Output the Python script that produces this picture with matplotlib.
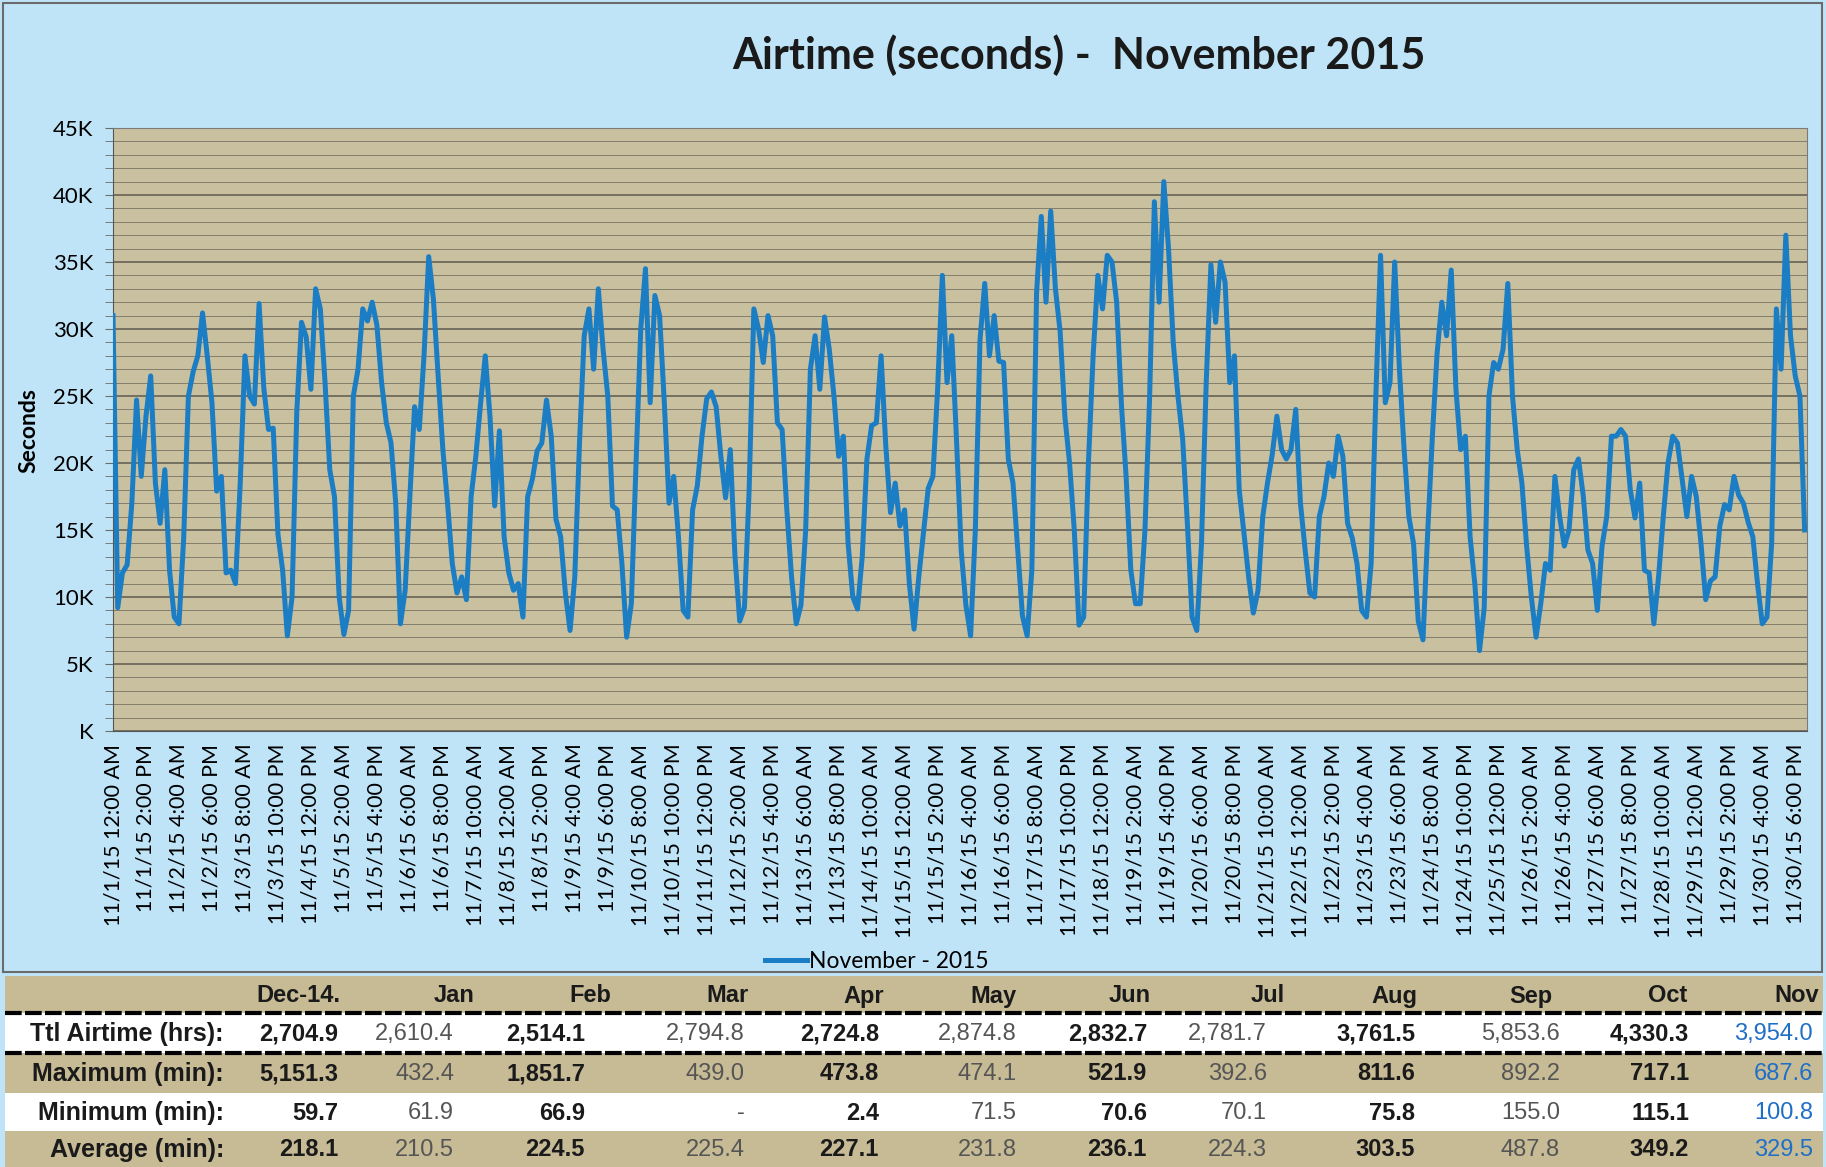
import datetime as dt
import numpy as np
import matplotlib
matplotlib.use('Agg')
import matplotlib.pyplot as plt
from matplotlib.lines import Line2D
from matplotlib.patches import Rectangle
from matplotlib.ticker import MultipleLocator, FuncFormatter

plt.rcParams['font.family'] = ['Lato', 'DejaVu Sans']

# airtime in thousands of seconds, sampled every 2 hours (00:00, 02:00 ... 22:00)
nov01 = [31, 9.2, 11.8, 12.4, 17, 24.7, 19, 23.5, 26.5, 18.5, 15.5, 19.5]
nov02 = [12, 8.5, 8.0, 14.4, 25, 26.8, 28, 31.2, 28, 24.5, 17.9, 19]
nov03 = [11.8, 12, 11, 18.5, 28, 25, 24.4, 31.9, 25.6, 22.5, 22.6, 14.7]
nov04 = [12, 7.1, 10, 23.8, 30.5, 29.4, 25.5, 33, 31.5, 26, 19.5, 17.5]
nov05 = [10, 7.2, 9, 25, 27, 31.5, 30.6, 32, 30.3, 26, 23, 21.5]
nov06 = [17, 8, 10.5, 17.5, 24.2, 22.5, 28, 35.4, 32.2, 26.5, 21, 17]
nov07 = [12.5, 10.3, 11.5, 9.8, 17.5, 20.5, 24.4, 28, 23.5, 16.8, 22.4, 14.5]
nov08 = [11.8, 10.5, 11, 8.5, 17.5, 18.8, 20.9, 21.5, 24.7, 22, 15.8, 14.5]
nov09 = [10.3, 7.5, 11.5, 21.5, 29.5, 31.5, 27, 33, 28.5, 25, 16.8, 16.5]
nov10 = [12.5, 7, 9.5, 20, 30, 34.5, 24.5, 32.5, 31, 24.5, 17, 19]
nov11 = [14.5, 9, 8.5, 16.5, 18.3, 22, 24.8, 25.3, 24.2, 20.5, 17.4, 21]
nov12 = [13, 8.2, 9.2, 18, 31.5, 30, 27.5, 31, 29.5, 23, 22.5, 16.5]
nov13 = [11.5, 8, 9.4, 15, 27, 29.5, 25.5, 30.9, 28.5, 25, 20.5, 22]
nov14 = [14, 10, 9.1, 13, 20.3, 22.8, 23, 28, 21.3, 16.3, 18.5, 15.3]
nov15 = [16.5, 11, 7.6, 11.5, 14.8, 18.1, 19, 25.5, 34, 26, 29.5, 21.8]
nov16 = [13.5, 9.4, 7.1, 15, 29.2, 33.4, 28, 31, 27.6, 27.5, 20.3, 18.5]
nov17 = [13.6, 8.6, 7.1, 12, 32.7, 38.4, 32, 38.8, 33, 29.8, 23.5, 20]
nov18 = [15, 7.9, 8.5, 20, 28, 34, 31.5, 35.5, 35, 32, 24.4, 19]
nov19 = [12, 9.5, 9.5, 15, 25, 39.5, 32, 41, 36, 29, 25, 21.8]
nov20 = [15.5, 8.5, 7.5, 14, 26, 34.8, 30.5, 35, 33.5, 26, 28, 18]
nov21 = [14.8, 11.5, 8.8, 10.5, 16, 18.5, 20.6, 23.5, 21, 20.3, 21, 24]
nov22 = [17, 13.5, 10.3, 10, 16, 17.5, 20, 19, 22, 20.5, 15.5, 14.4]
nov23 = [12.5, 9, 8.5, 12.5, 25, 35.5, 24.5, 26, 35, 27, 21, 16]
nov24 = [14, 8.2, 6.8, 14.8, 22, 28.2, 32, 29.5, 34.4, 25.5, 21, 22]
nov25 = [14.5, 11, 6, 9.2, 25, 27.5, 27, 28.5, 33.4, 25, 21, 18.5]
nov26 = [13.8, 10, 7, 9.5, 12.5, 12, 19, 16, 13.8, 15, 19.5, 20.3]
nov27 = [17.6, 13.5, 12.5, 9, 13.8, 16, 22, 22, 22.5, 22, 18, 15.9]
nov28 = [18.5, 12, 11.8, 8, 11.5, 16, 20, 22, 21.5, 18.8, 16, 19]
nov29 = [17.5, 14, 9.8, 11.2, 11.5, 15.3, 16.9, 16.5, 19, 17.6, 17, 15.6]
nov30 = [14.5, 11, 8, 8.5, 14, 31.5, 27, 37, 29.5, 26.5, 25, 15]

days = [nov01, nov02, nov03, nov04, nov05, nov06, nov07, nov08, nov09, nov10,
        nov11, nov12, nov13, nov14, nov15, nov16, nov17, nov18, nov19, nov20,
        nov21, nov22, nov23, nov24, nov25, nov26, nov27, nov28, nov29, nov30]

# summary table
months = ['Dec-14.', 'Jan', 'Feb', 'Mar', 'Apr', 'May', 'Jun', 'Jul', 'Aug', 'Sep', 'Oct', 'Nov']
row_names = ['Ttl Airtime (hrs):', 'Maximum (min):', 'Minimum (min):', 'Average (min):']
ttl_airtime = ['2,704.9', '2,610.4', '2,514.1', '2,794.8', '2,724.8', '2,874.8',
               '2,832.7', '2,781.7', '3,761.5', '5,853.6', '4,330.3', '3,954.0']
maximum = ['5,151.3', '432.4', '1,851.7', '439.0', '473.8', '474.1',
           '521.9', '392.6', '811.6', '892.2', '717.1', '687.6']
minimum = ['59.7', '61.9', '66.9', '-', '2.4', '71.5',
           '70.6', '70.1', '75.8', '155.0', '115.1', '100.8']
average = ['218.1', '210.5', '224.5', '225.4', '227.1', '231.8',
           '236.1', '224.3', '303.5', '487.8', '349.2', '329.5']

values = np.concatenate([np.array(d) for d in days]) * 1000
hours = np.arange(0, 24 * len(days), 2)

start = dt.datetime(2015, 11, 1)
tick_hours = np.arange(0, 24 * len(days) - 5, 14)
tick_labels = []
for h in tick_hours:
    t = start + dt.timedelta(hours=int(h))
    h12 = t.hour % 12 or 12
    ampm = 'AM' if t.hour < 12 else 'PM'
    tick_labels.append(f"{t.month}/{t.day}/{t.strftime('%y')} {h12}:{t.minute:02d} {ampm}")

W, H = 1826, 1167
fig = plt.figure(figsize=(W / 100, H / 100), dpi=100)
fig.patch.set_facecolor('#bfe4f7')

# chart area border
fig.patches.append(Rectangle((3 / W, 1 - 972 / H), 1819 / W, 969 / H, transform=fig.transFigure,
                             fill=False, edgecolor='#6b6b6b', lw=1.5, zorder=0))

ax = fig.add_axes([113 / W, 1 - 731 / H, (1807 - 113) / W, (731 - 128) / H])
ax.set_facecolor('#c9c0a0')
ax.plot(hours, values, color='#1b7dc3', lw=3.6, solid_joinstyle='round', zorder=3)
ax.set_xlim(0, 719)
ax.set_ylim(0, 45000)
ax.yaxis.set_major_locator(MultipleLocator(5000))
ax.yaxis.set_minor_locator(MultipleLocator(1000))
ax.yaxis.set_major_formatter(FuncFormatter(lambda v, p: f"{int(round(v / 1000))}K" if v else "K"))
ax.grid(which='major', axis='y', color='#5e5a50', lw=1.1, zorder=1)
ax.grid(which='minor', axis='y', color='#837d6c', lw=0.7, zorder=1)
ax.tick_params(axis='y', which='both', direction='out', length=6, color='#6b6b6b',
               labelsize=16, pad=8)
ax.tick_params(axis='x', length=0, labelsize=15.5, pad=9)
ax.set_xticks(tick_hours)
ax.set_xticklabels(tick_labels, rotation=90, ha='center', va='top')
for s in ax.spines.values():
    s.set_color('#7a7a7a')
ax.spines['left'].set_color('#555555')
ax.spines['bottom'].set_color('#555555')

fig.text(1079 / W, 1 - 55 / H, 'Airtime (seconds) -  November 2015', ha='center', va='center',
         fontsize=31, fontweight='bold', color='#1a1a1a')
fig.text(29 / W, 1 - 431 / H, 'Seconds', rotation=90, ha='center', va='center',
         fontsize=16.5, fontweight='bold')

handle = Line2D([], [], color='#1b7dc3', lw=3.6)
fig.legend([handle], ['November - 2015'], loc='center', bbox_to_anchor=(877 / W, 1 - 962 / H),
           frameon=False, fontsize=16.5, handlelength=1.8, handletextpad=0.1)

# table drawn in pixel coordinates of the lower strip
tab = fig.add_axes([0, 0, 1, 198 / H])
tab.set_xlim(0, W)
tab.set_ylim(H, H - 198)
tab.axis('off')
tan = '#c6bb95'
bands = [(976, 1013, tan), (1013, 1053, 'white'), (1053, 1093, tan), (1093, 1131, 'white'), (1131, 1167, tan)]
for y0, y1, c in bands:
    tab.add_patch(Rectangle((5, y0), W - 8, y1 - y0, facecolor=c, edgecolor='none'))
for y in (1013, 1053):
    tab.plot([5, W - 3], [y, y], color='black', lw=3, linestyle=(0, (4, 0.8)))

tfont = ['Liberation Sans Narrow', 'Liberation Sans', 'DejaVu Sans']
header_x = [340, 475, 611, 749, 884, 1017, 1151, 1285, 1417, 1552, 1687, 1819]
value_x = [338, 454, 585, 745, 879, 1017, 1147, 1267, 1415, 1560, 1689, 1813]
row_y = [1034, 1074, 1113, 1150]
for m, x in zip(months, header_x):
    tab.text(x, 996, m, ha='right', va='center', fontsize=17, fontweight='bold',
             family=tfont, color='#1a1a1a')
for name, y, row in zip(row_names, row_y, [ttl_airtime, maximum, minimum, average]):
    tab.text(224, y, name, ha='right', va='center', fontsize=18, fontweight='bold',
             family=tfont, color='#1a1a1a')
    for i, (v, x) in enumerate(zip(row, value_x)):
        if i == len(row) - 1:
            col, wt = '#1f6fc6', 'normal'
        elif i % 2 == 0:
            col, wt = '#1a1a1a', 'bold'
        else:
            col, wt = '#555555', 'normal'
        tab.text(x, y, v, ha='right', va='center', fontsize=17, fontweight=wt,
                 family=tfont, color=col)

fig.savefig('out.png', dpi=100, facecolor=fig.get_facecolor())
